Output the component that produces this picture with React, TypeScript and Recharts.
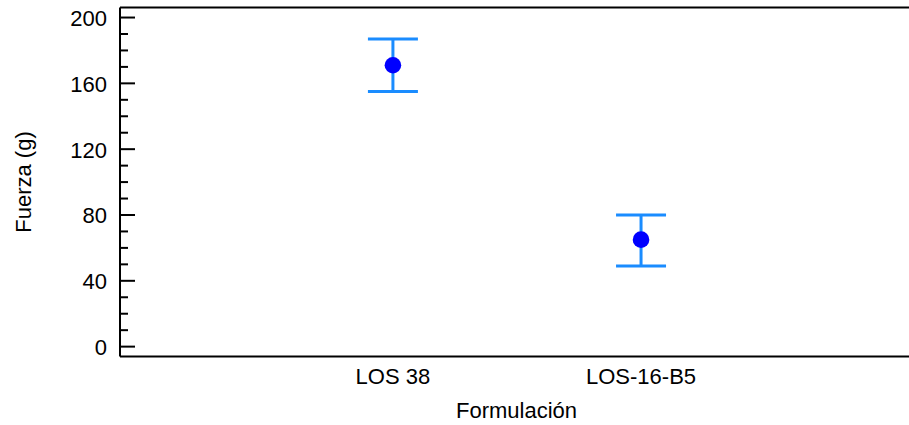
import {
  ComposedChart,
  Scatter,
  XAxis,
  YAxis,
  ErrorBar,
  ReferenceLine,
  Label,
} from "recharts";

const categories = ["LOS 38", "LOS-16-B5"];
const positions = [1, 2];
const means = [171, 65];
const lowerLimits = [155, 49];
const upperLimits = [187, 80];
const yTicks = [0, 10, 20, 30, 40, 50, 60, 70, 80, 90, 100, 110, 120, 130, 140, 150, 160, 170, 180, 190, 200];
const labelledTicks = [0, 40, 80, 120, 160, 200];

const FONT = "'Liberation Sans', Arial, sans-serif";
const DOT = "#0000ff";
const BAR = "#1a8cff";

const data = categories.map((name, i) => ({
  x: positions[i],
  name,
  mean: means[i],
  err: [means[i] - lowerLimits[i], upperLimits[i] - means[i]],
}));

function LeftTick(props: any) {
  const { x, y, payload } = props;
  const major = labelledTicks.includes(payload.value);
  return (
    <g>
      <line x1={x} x2={x + (major ? 15 : 8)} y1={y} y2={y} stroke="#000" strokeWidth={2} />
      {major && (
        <text x={x - 13} y={y + 8.5} textAnchor="end" fontSize={22} fill="#000" fontFamily={FONT}>
          {payload.value}
        </text>
      )}
    </g>
  );
}

function RightTick(props: any) {
  const { x, y, payload } = props;
  const major = labelledTicks.includes(payload.value);
  return <line x1={x - (major ? 10 : 3)} x2={x} y1={y} y2={y} stroke="#000" strokeWidth={2} />;
}

function BottomTick(props: any) {
  const { x, y, payload } = props;
  const idx = positions.indexOf(payload.value);
  return (
    <text x={x} y={y + 27} textAnchor="middle" fontSize={22} fill="#000" fontFamily={FONT}>
      {categories[idx]}
    </text>
  );
}

export default function App() {
  return (
    <div style={{ position: "absolute", top: 0, left: 0, width: 909, height: 425, background: "#fff" }}>
      <ComposedChart
        width={909}
        height={425}
        data={data}
        margin={{ top: 7.5, right: 0, bottom: 0, left: 0 }}
      >
        <XAxis
          dataKey="x"
          type="number"
          domain={[-0.1, 3.08]}
          ticks={positions}
          interval={0}
          height={68.5}
          tickSize={0}
          tickMargin={0}
          tickLine={false}
          axisLine={{ stroke: "#000", strokeWidth: 2 }}
          tick={<BottomTick />}
        >
          <Label
            content={({ viewBox }: any) => (
              <text
                x={viewBox.x + viewBox.width / 2 + 2}
                y={viewBox.y + 61.5}
                textAnchor="middle"
                fontSize={22}
                fill="#000"
                fontFamily={FONT}
              >
                Formulación
              </text>
            )}
          />
        </XAxis>
        <YAxis
          type="number"
          domain={[-6, 206.1]}
          ticks={yTicks}
          interval={0}
          width={120}
          tickSize={0}
          tickMargin={0}
          tickLine={false}
          axisLine={{ stroke: "#000", strokeWidth: 2 }}
          tick={<LeftTick />}
        >
          <Label
            content={({ viewBox }: any) => {
              const cy = viewBox.y + viewBox.height / 2;
              return (
                <text
                  x={30.5}
                  y={cy}
                  transform={`rotate(-90, 30.5, ${cy})`}
                  textAnchor="middle"
                  fontSize={22}
                  fill="#000"
                  fontFamily={FONT}
                >
                  Fuerza (g)
                </text>
              );
            }}
          />
        </YAxis>
        <YAxis
          yAxisId="right"
          orientation="right"
          type="number"
          domain={[-6, 206.1]}
          ticks={yTicks}
          interval={0}
          width={0}
          tickSize={0}
          tickMargin={0}
          tickLine={false}
          axisLine={false}
          tick={<RightTick />}
        />
        <ReferenceLine y={206.1} stroke="#000" strokeWidth={2} ifOverflow="visible" />
        <Scatter
          dataKey="mean"
          isAnimationActive={false}
          shape={(p: any) => <circle cx={p.cx} cy={p.cy} r={8.3} fill={DOT} />}
        />
        <Scatter
          dataKey="mean"
          isAnimationActive={false}
          shape={() => <g />}
        >
          <ErrorBar dataKey="err" direction="y" width={25} stroke={BAR} strokeWidth={3} isAnimationActive={false} />
        </Scatter>
      </ComposedChart>
    </div>
  );
}
